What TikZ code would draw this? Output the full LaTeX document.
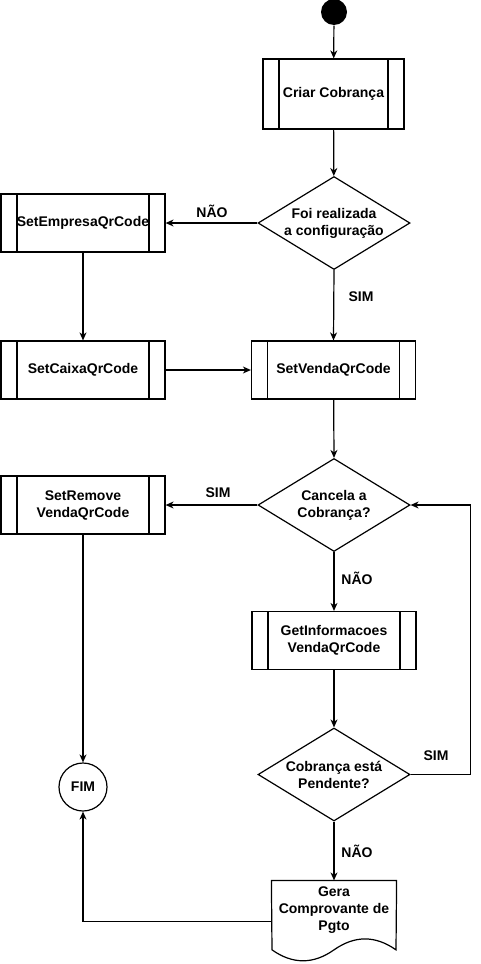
\documentclass[tikz,border=0pt]{standalone}
\usepackage{fontspec}
\setmainfont{Liberation Sans}
\usetikzlibrary{shapes.geometric,arrows.meta,calc}
\tikzset{
  base/.style={font=\fontsize{14}{17}\selectfont\bfseries, line width=1.2pt, align=center, inner sep=0pt},
  proc/.style={base, draw, rectangle, minimum width=164pt, minimum height=58pt,
    path picture={
      \draw[line width=1.2pt] ([xshift=16pt]path picture bounding box.north west) -- ([xshift=16pt]path picture bounding box.south west);
      \draw[line width=1.2pt] ([xshift=-16pt]path picture bounding box.north east) -- ([xshift=-16pt]path picture bounding box.south east);}},
  dec/.style={base, draw, diamond, aspect=1.65, minimum width=152pt, minimum height=93pt},
  lbl/.style={base},
  arr/.style={line width=1.2pt, -{Stealth[length=8pt,width=7pt,inset=2.5pt]}},
  ln/.style={line width=1.2pt}
}
\begin{document}
\begin{tikzpicture}[x=1pt,y=-1pt]
\useasboundingbox (0,0) rectangle (480,964);
\node[base, circle, fill=black, minimum size=26pt] (start) at (334,12) {};
\node[proc, minimum width=141pt, minimum height=70pt] (criar) at (333.5,94) {Criar Cobrança};
\node[dec] (d1) at (334,223) {Foi realizada\\a configuração};
\node[proc] (empresa) at (83,223) {SetEmpresaQrCode};
\node[proc] (caixa) at (83,370) {SetCaixaQrCode};
\node[proc] (venda) at (333.5,370) {SetVendaQrCode};
\node[dec] (d2) at (334,505) {Cancela a\\Cobrança?};
\node[proc] (remove) at (83,505) {SetRemove\\VendaQrCode};
\node[proc] (getinfo) at (334,640.5) {GetInformacoes\\VendaQrCode};
\node[dec] (d3) at (334,774.5) {Cobrança está\\Pendente?};
\node[base, draw, circle, minimum size=48pt] (fim) at (83,787) {FIM};
\node[base, rectangle, minimum width=124pt, minimum height=81pt] (doc) at (334,921.5) {};
\node[base] (doctxt) at (334,910) {Gera\\Comprovante de\\Pgto};
\draw[ln] (doc.north west) -- (doc.north east) -- (396,949.85)
  .. controls (375.33,935.28) and (354.67,935.28) .. (334,949.85)
  .. controls (313.33,964.43) and (292.67,964.43) .. (272,949.85) -- cycle;

\draw[arr] (start) -- (criar);
\draw[arr] (criar) -- (d1);
\draw[arr] (d1.west) -- (empresa.east);
\draw[arr] (empresa) -- (caixa);
\draw[arr] (d1.south) -- (venda.north);
\draw[arr] (caixa) -- (venda);
\draw[arr] (venda) -- (d2.north);
\draw[arr] (d2.west) -- (remove.east);
\draw[arr] (d2.south) -- (getinfo.north);
\draw[arr] (getinfo) -- (d3.north);
\draw[arr] (d3.south) -- (doc.north);
\draw[arr] (d3.east) -| ($(d2.east)+(60,0)$) -- (d2.east);
\draw[arr] (remove) -- (fim);
\draw[arr] (doc.west) -| (fim.south);

\node[lbl] (l1) at (212,211) {NÃO};
\node[lbl] (l2) at (361,297) {SIM};
\node[lbl] (l3) at (218,493) {SIM};
\node[lbl] (l4) at (357,578) {NÃO};
\node[lbl] (l5) at (436,756) {SIM};
\node[lbl] (l6) at (357,851) {NÃO};
\end{tikzpicture}
\end{document}
